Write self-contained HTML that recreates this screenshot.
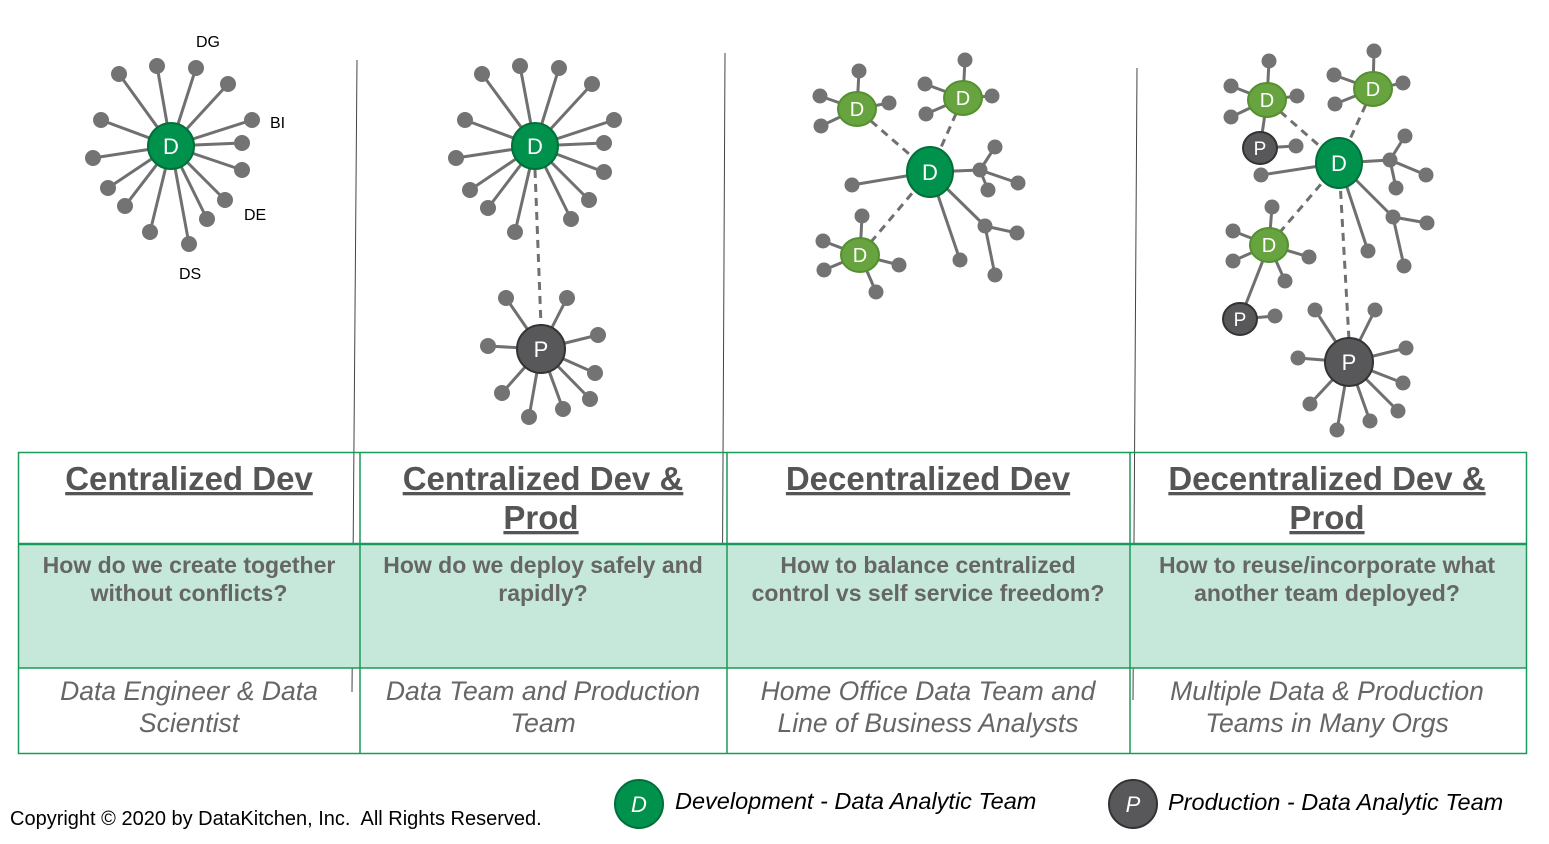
<!DOCTYPE html>
<html><head><meta charset="utf-8"><style>
body{margin:0;background:#fff;width:1549px;height:844px;overflow:hidden;font-family:"Liberation Sans",Arial,sans-serif;}
svg{position:absolute;left:0;top:0}
</style></head><body>
<svg width="1549" height="844" viewBox="0 0 1549 844" xmlns="http://www.w3.org/2000/svg" font-family="Liberation Sans, Arial, sans-serif">
<defs>
<style>
.l{stroke:#707070;stroke-width:3}
.d{stroke:#707070;stroke-width:3;stroke-dasharray:8,6}
.leaf{fill:#737373}
.hd{fill:#555;font-size:33px;font-weight:bold;text-anchor:middle;text-decoration:underline}
.q{fill:#666;font-size:23px;font-weight:bold;text-anchor:middle}
.b{fill:#666;font-size:26.5px;font-style:italic;text-anchor:middle}
</style>
</defs>
<line x1="357" y1="60" x2="352" y2="692" stroke="#444" stroke-width="1"/>
<line x1="725" y1="53" x2="722" y2="665" stroke="#444" stroke-width="1"/>
<line x1="1137" y1="68" x2="1133" y2="700" stroke="#444" stroke-width="1"/>

<g id="c1">
<g class="l">
<line x1="171" y1="146" x2="119" y2="74"/><line x1="171" y1="146" x2="157" y2="66"/><line x1="171" y1="146" x2="196" y2="68"/><line x1="171" y1="146" x2="228" y2="84"/><line x1="171" y1="146" x2="252" y2="120"/><line x1="171" y1="146" x2="242" y2="143"/><line x1="171" y1="146" x2="242" y2="170"/><line x1="171" y1="146" x2="225" y2="200"/><line x1="171" y1="146" x2="207" y2="219"/><line x1="171" y1="146" x2="189" y2="244"/><line x1="171" y1="146" x2="150" y2="232"/><line x1="171" y1="146" x2="125" y2="206"/><line x1="171" y1="146" x2="108" y2="188"/><line x1="171" y1="146" x2="93" y2="158"/><line x1="171" y1="146" x2="101" y2="120"/>
</g>
<g class="leaf">
<circle cx="119" cy="74" r="8"/><circle cx="157" cy="66" r="8"/><circle cx="196" cy="68" r="8"/><circle cx="228" cy="84" r="8"/><circle cx="252" cy="120" r="8"/><circle cx="242" cy="143" r="8"/><circle cx="242" cy="170" r="8"/><circle cx="225" cy="200" r="8"/><circle cx="207" cy="219" r="8"/><circle cx="189" cy="244" r="8"/><circle cx="150" cy="232" r="8"/><circle cx="125" cy="206" r="8"/><circle cx="108" cy="188" r="8"/><circle cx="93" cy="158" r="8"/><circle cx="101" cy="120" r="8"/>
</g>
<circle cx="171" cy="146" r="23" fill="#00914d" stroke="#007038" stroke-width="2"/>
<text x="171" y="154" fill="#fff" font-size="22" text-anchor="middle">D</text>
<text x="196" y="47" font-size="16" fill="#000">DG</text>
<text x="270" y="128" font-size="16" fill="#000">BI</text>
<text x="244" y="220" font-size="16" fill="#000">DE</text>
<text x="179" y="279" font-size="16" fill="#000">DS</text>
</g>

<g>
<line class="d" x1="535" y1="170" x2="541" y2="325"/>
<g class="l">
<line x1="535" y1="146" x2="482" y2="74"/><line x1="535" y1="146" x2="520" y2="66"/><line x1="535" y1="146" x2="559" y2="68"/><line x1="535" y1="146" x2="592" y2="84"/><line x1="535" y1="146" x2="614" y2="120"/><line x1="535" y1="146" x2="604" y2="143"/><line x1="535" y1="146" x2="604" y2="172"/><line x1="535" y1="146" x2="589" y2="200"/><line x1="535" y1="146" x2="571" y2="219"/><line x1="535" y1="146" x2="515" y2="232"/><line x1="535" y1="146" x2="488" y2="208"/><line x1="535" y1="146" x2="470" y2="190"/><line x1="535" y1="146" x2="456" y2="158"/><line x1="535" y1="146" x2="465" y2="120"/>
<line x1="541" y1="349" x2="506" y2="298"/><line x1="541" y1="349" x2="567" y2="298"/><line x1="541" y1="349" x2="598" y2="335"/><line x1="541" y1="349" x2="595" y2="373"/><line x1="541" y1="349" x2="590" y2="399"/><line x1="541" y1="349" x2="563" y2="409"/><line x1="541" y1="349" x2="529" y2="417"/><line x1="541" y1="349" x2="502" y2="393"/><line x1="541" y1="349" x2="488" y2="346"/>
</g>
<g class="leaf">
<circle cx="482" cy="74" r="8"/><circle cx="520" cy="66" r="8"/><circle cx="559" cy="68" r="8"/><circle cx="592" cy="84" r="8"/><circle cx="614" cy="120" r="8"/><circle cx="604" cy="143" r="8"/><circle cx="604" cy="172" r="8"/><circle cx="589" cy="200" r="8"/><circle cx="571" cy="219" r="8"/><circle cx="515" cy="232" r="8"/><circle cx="488" cy="208" r="8"/><circle cx="470" cy="190" r="8"/><circle cx="456" cy="158" r="8"/><circle cx="465" cy="120" r="8"/>
<circle cx="506" cy="298" r="8"/><circle cx="567" cy="298" r="8"/><circle cx="598" cy="335" r="8"/><circle cx="595" cy="373" r="8"/><circle cx="590" cy="399" r="8"/><circle cx="563" cy="409" r="8"/><circle cx="529" cy="417" r="8"/><circle cx="502" cy="393" r="8"/><circle cx="488" cy="346" r="8"/>
</g>
<circle cx="535" cy="146" r="23" fill="#00914d" stroke="#007038" stroke-width="2"/>
<text x="535" y="154" fill="#fff" font-size="22" text-anchor="middle">D</text>
<circle cx="541" cy="349" r="24" fill="#58585a" stroke="#333" stroke-width="2"/>
<text x="541" y="357" fill="#fff" font-size="22" text-anchor="middle">P</text>
</g>

<g>
<g class="d"><line x1="930" y1="172" x2="857" y2="109"/><line x1="930" y1="172" x2="963" y2="98"/><line x1="930" y1="172" x2="860" y2="255"/></g>
<g class="l">
<line x1="857" y1="109" x2="859" y2="71"/><line x1="857" y1="109" x2="820" y2="96"/><line x1="857" y1="109" x2="821" y2="126"/><line x1="857" y1="109" x2="889" y2="103"/>
<line x1="963" y1="98" x2="965" y2="60"/><line x1="963" y1="98" x2="925" y2="84"/><line x1="963" y1="98" x2="926" y2="114"/><line x1="963" y1="98" x2="992" y2="96"/>
<line x1="860" y1="255" x2="862" y2="216"/><line x1="860" y1="255" x2="823" y2="241"/><line x1="860" y1="255" x2="824" y2="270"/><line x1="860" y1="255" x2="899" y2="265"/><line x1="860" y1="255" x2="876" y2="292"/>
<line x1="930" y1="172" x2="852" y2="185"/><line x1="930" y1="172" x2="960" y2="260"/><line x1="930" y1="172" x2="980" y2="170"/><line x1="980" y1="170" x2="995" y2="147"/><line x1="980" y1="170" x2="1018" y2="183"/><line x1="980" y1="170" x2="988" y2="190"/>
<line x1="930" y1="172" x2="985" y2="226"/><line x1="985" y1="226" x2="1017" y2="233"/><line x1="985" y1="226" x2="995" y2="275"/>
</g>
<g class="leaf">
<circle cx="859" cy="71" r="7.5"/><circle cx="820" cy="96" r="7.5"/><circle cx="821" cy="126" r="7.5"/><circle cx="889" cy="103" r="7.5"/>
<circle cx="965" cy="60" r="7.5"/><circle cx="925" cy="84" r="7.5"/><circle cx="926" cy="114" r="7.5"/><circle cx="992" cy="96" r="7.5"/>
<circle cx="862" cy="216" r="7.5"/><circle cx="823" cy="241" r="7.5"/><circle cx="824" cy="270" r="7.5"/><circle cx="899" cy="265" r="7.5"/><circle cx="876" cy="292" r="7.5"/>
<circle cx="852" cy="185" r="7.5"/><circle cx="960" cy="260" r="7.5"/><circle cx="980" cy="170" r="7.5"/><circle cx="995" cy="147" r="7.5"/><circle cx="1018" cy="183" r="7.5"/><circle cx="988" cy="190" r="7.5"/><circle cx="985" cy="226" r="7.5"/><circle cx="1017" cy="233" r="7.5"/><circle cx="995" cy="275" r="7.5"/>
</g>
<g fill="#67a33e" stroke="#54902f" stroke-width="2">
<ellipse cx="857" cy="109" rx="19" ry="17"/><ellipse cx="963" cy="98" rx="19" ry="17"/><ellipse cx="860" cy="255" rx="19" ry="17"/>
</g>
<g fill="#fff" font-size="20" text-anchor="middle"><text x="857" y="116">D</text><text x="963" y="105">D</text><text x="860" y="262">D</text></g>
<ellipse cx="930" cy="172" rx="23" ry="25" fill="#00914d" stroke="#007038" stroke-width="2"/>
<text x="930" y="180" fill="#fff" font-size="22" text-anchor="middle">D</text>
</g>

<g>
<g class="d"><line x1="1339" y1="163" x2="1267" y2="100"/><line x1="1339" y1="163" x2="1373" y2="89"/><line x1="1339" y1="163" x2="1269" y2="245"/><line x1="1339" y1="163" x2="1349" y2="340"/></g>
<g class="l">
<line x1="1267" y1="100" x2="1269" y2="61"/><line x1="1267" y1="100" x2="1231" y2="86"/><line x1="1267" y1="100" x2="1231" y2="117"/><line x1="1267" y1="100" x2="1297" y2="96"/><line x1="1267" y1="100" x2="1260" y2="148"/><line x1="1260" y1="148" x2="1296" y2="146"/>
<line x1="1373" y1="89" x2="1374" y2="51"/><line x1="1373" y1="89" x2="1334" y2="75"/><line x1="1373" y1="89" x2="1335" y2="104"/><line x1="1373" y1="89" x2="1403" y2="83"/>
<line x1="1269" y1="245" x2="1272" y2="207"/><line x1="1269" y1="245" x2="1233" y2="231"/><line x1="1269" y1="245" x2="1233" y2="261"/><line x1="1269" y1="245" x2="1309" y2="257"/><line x1="1269" y1="245" x2="1285" y2="281"/><line x1="1269" y1="245" x2="1240" y2="319"/><line x1="1240" y1="319" x2="1275" y2="316"/>
<line x1="1339" y1="163" x2="1261" y2="175"/><line x1="1339" y1="163" x2="1390" y2="160"/><line x1="1390" y1="160" x2="1405" y2="136"/><line x1="1390" y1="160" x2="1426" y2="175"/><line x1="1390" y1="160" x2="1396" y2="188"/>
<line x1="1339" y1="163" x2="1393" y2="217"/><line x1="1393" y1="217" x2="1427" y2="223"/><line x1="1393" y1="217" x2="1404" y2="266"/><line x1="1339" y1="163" x2="1368" y2="251"/>
<line x1="1349" y1="362" x2="1315" y2="310"/><line x1="1349" y1="362" x2="1375" y2="310"/><line x1="1349" y1="362" x2="1406" y2="348"/><line x1="1349" y1="362" x2="1298" y2="358"/><line x1="1349" y1="362" x2="1403" y2="383"/><line x1="1349" y1="362" x2="1398" y2="411"/><line x1="1349" y1="362" x2="1370" y2="421"/><line x1="1349" y1="362" x2="1337" y2="430"/><line x1="1349" y1="362" x2="1310" y2="404"/>
</g>
<g class="leaf">
<circle cx="1269" cy="61" r="7.5"/><circle cx="1231" cy="86" r="7.5"/><circle cx="1231" cy="117" r="7.5"/><circle cx="1297" cy="96" r="7.5"/><circle cx="1296" cy="146" r="7.5"/>
<circle cx="1374" cy="51" r="7.5"/><circle cx="1334" cy="75" r="7.5"/><circle cx="1335" cy="104" r="7.5"/><circle cx="1403" cy="83" r="7.5"/>
<circle cx="1272" cy="207" r="7.5"/><circle cx="1233" cy="231" r="7.5"/><circle cx="1233" cy="261" r="7.5"/><circle cx="1309" cy="257" r="7.5"/><circle cx="1285" cy="281" r="7.5"/><circle cx="1275" cy="316" r="7.5"/>
<circle cx="1261" cy="175" r="7.5"/><circle cx="1390" cy="160" r="7.5"/><circle cx="1405" cy="136" r="7.5"/><circle cx="1426" cy="175" r="7.5"/><circle cx="1396" cy="188" r="7.5"/><circle cx="1393" cy="217" r="7.5"/><circle cx="1427" cy="223" r="7.5"/><circle cx="1404" cy="266" r="7.5"/><circle cx="1368" cy="251" r="7.5"/>
<circle cx="1315" cy="310" r="7.5"/><circle cx="1375" cy="310" r="7.5"/><circle cx="1406" cy="348" r="7.5"/><circle cx="1298" cy="358" r="7.5"/><circle cx="1403" cy="383" r="7.5"/><circle cx="1398" cy="411" r="7.5"/><circle cx="1370" cy="421" r="7.5"/><circle cx="1337" cy="430" r="7.5"/><circle cx="1310" cy="404" r="7.5"/>
</g>
<g fill="#67a33e" stroke="#54902f" stroke-width="2">
<ellipse cx="1267" cy="100" rx="19" ry="17"/><ellipse cx="1373" cy="89" rx="19" ry="17"/><ellipse cx="1269" cy="245" rx="19" ry="17"/>
</g>
<g fill="#fff" font-size="20" text-anchor="middle"><text x="1267" y="107">D</text><text x="1373" y="96">D</text><text x="1269" y="252">D</text></g>
<g fill="#58585a" stroke="#333" stroke-width="2"><ellipse cx="1260" cy="148" rx="17" ry="16"/><ellipse cx="1240" cy="319" rx="17" ry="16"/></g>
<g fill="#fff" font-size="19" text-anchor="middle"><text x="1260" y="155">P</text><text x="1240" y="326">P</text></g>
<ellipse cx="1339" cy="163" rx="23" ry="25" fill="#00914d" stroke="#007038" stroke-width="2"/>
<text x="1339" y="171" fill="#fff" font-size="22" text-anchor="middle">D</text>
<circle cx="1349" cy="362" r="24" fill="#58585a" stroke="#333" stroke-width="2"/>
<text x="1349" y="370" fill="#fff" font-size="22" text-anchor="middle">P</text>
</g>

<rect x="18" y="545" width="1509" height="123" fill="#c5e8da"/>
<g stroke="#1a9a5a" fill="none">
<rect x="18.5" y="452.5" width="1508" height="301" stroke-width="1.5"/>
<line x1="18" y1="544" x2="1527" y2="544" stroke-width="2.5"/>
<line x1="18" y1="668" x2="1527" y2="668" stroke-width="1.5"/>
<line x1="360" y1="452" x2="360" y2="754" stroke-width="1.5"/>
<line x1="727" y1="452" x2="727" y2="754" stroke-width="1.5"/>
<line x1="1130" y1="452" x2="1130" y2="754" stroke-width="1.5"/>
</g>
<text class="hd" x="189" y="490">Centralized Dev</text>
<text class="hd" x="543" y="490">Centralized Dev &amp;</text>
<text class="hd" x="541" y="529">Prod</text>
<text class="hd" x="928" y="490">Decentralized Dev</text>
<text class="hd" x="1327" y="490">Decentralized Dev &amp;</text>
<text class="hd" x="1327" y="529">Prod</text>

<text class="q" x="189" y="573">How do we create together</text>
<text class="q" x="189" y="601">without conflicts?</text>
<text class="q" x="543" y="573">How do we deploy safely and</text>
<text class="q" x="543" y="601">rapidly?</text>
<text class="q" x="928" y="573">How to balance centralized</text>
<text class="q" x="928" y="601">control vs self service freedom?</text>
<text class="q" x="1327" y="573">How to reuse/incorporate what</text>
<text class="q" x="1327" y="601">another team deployed?</text>

<text class="b" x="189" y="700">Data Engineer &amp; Data</text>
<text class="b" x="189" y="732">Scientist</text>
<text class="b" x="543" y="700">Data Team and Production</text>
<text class="b" x="543" y="732">Team</text>
<text class="b" x="928" y="700">Home Office Data Team and</text>
<text class="b" x="928" y="732">Line of Business Analysts</text>
<text class="b" x="1327" y="700">Multiple Data &amp; Production</text>
<text class="b" x="1327" y="732">Teams in Many Orgs</text>

<text x="10" y="825" font-size="20" fill="#000">Copyright © 2020 by DataKitchen, Inc.&#160; All Rights Reserved.</text>
<circle cx="639" cy="804" r="24" fill="#00914d" stroke="#00703a" stroke-width="2"/>
<text x="639" y="812" fill="#fff" font-size="22" font-style="italic" text-anchor="middle">D</text>
<text x="675" y="809" font-size="23.5" font-style="italic" fill="#000">Development - Data Analytic Team</text>
<circle cx="1133" cy="804" r="24" fill="#58585a" stroke="#333" stroke-width="2"/>
<text x="1133" y="812" fill="#fff" font-size="22" font-style="italic" text-anchor="middle">P</text>
<text x="1168" y="810" font-size="23.5" font-style="italic" fill="#000">Production - Data Analytic Team</text>
</svg>
</body></html>
